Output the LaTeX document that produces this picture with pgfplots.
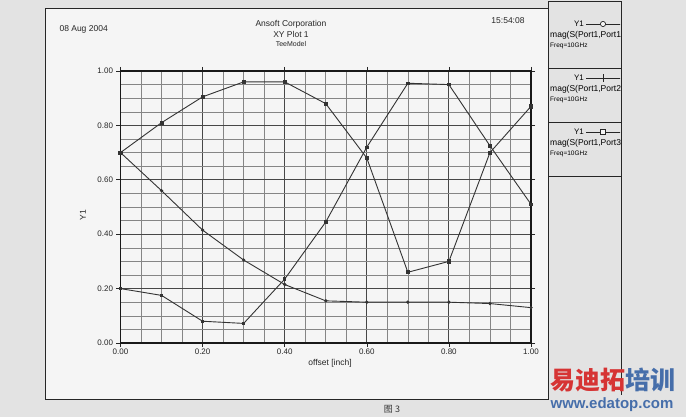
\documentclass[border=0pt]{standalone}
\usepackage{pgfplots}
\pgfplotsset{compat=1.18}
\usepackage{fontspec}
\setmainfont{Liberation Sans}
\newfontfamily\cjk{Noto Sans CJK SC}
\definecolor{wmred}{RGB}{214,52,52}
\definecolor{wmblue}{RGB}{70,110,170}

\begin{document}
\begin{tikzpicture}
\begin{scope}[x=1pt,y=1pt]
    \useasboundingbox (0,0) rectangle (686,417);
    \fill[black!11] (0,0) rectangle (686,417);
    % plot frame
    \fill[black!4] (45,17) rectangle (548,408);
    \draw[black!85, line width=1pt] (45,17) rectangle (548,408);
    % legend panel
    \draw[black!85, line width=1pt] (548,408) -- (548,415) -- (621,415) -- (621,22);
    \draw[black!85, line width=0.8pt] (548,349) -- (621,349);
    \draw[black!85, line width=0.8pt] (548,295) -- (621,295);
    \draw[black!85, line width=0.8pt] (548,241) -- (621,241);

    % header texts
    \node[font=\fontsize{8.5}{10}\selectfont, anchor=west, text=black!85] at (56,388) {08 Aug 2004};
    \node[font=\fontsize{8.5}{10}\selectfont, text=black!85] at (291,393) {Ansoft Corporation};
    \node[font=\fontsize{8.5}{10}\selectfont, text=black!85] at (291,383) {XY Plot 1};
    \node[font=\fontsize{7}{8}\selectfont, text=black!85] at (291,373) {TeeModel};
    \node[font=\fontsize{8.5}{10}\selectfont, text=black!85] at (508,396) {15:54:08};

    % axis titles
    \node[font=\fontsize{8.5}{10}\selectfont, rotate=90, text=black!85] at (83,202) {Y1};
    \node[font=\fontsize{8.5}{10}\selectfont, text=black!85] at (330,54) {offset [inch]};

    % legend entries
    \begin{scope}
        \clip (549,242) rectangle (620,414);
        \node[font=\fontsize{8}{9}\selectfont, anchor=east, inner sep=0pt] at (584,393) {Y1};
        \draw[black!85, line width=0.7pt] (586,393) -- (621,393);
        \draw[black!85, line width=0.7pt, fill=black!4] (603,393) circle (2.6);
        \node[font=\fontsize{8.5}{10}\selectfont, anchor=west, inner sep=0pt] at (550,382) {mag(S(Port1,Port1))};
        \node[font=\fontsize{6.5}{8}\selectfont, anchor=west, inner sep=0pt] at (550,371) {Freq=10GHz};

        \node[font=\fontsize{8}{9}\selectfont, anchor=east, inner sep=0pt] at (584,339) {Y1};
        \draw[black!85, line width=0.7pt] (586,339) -- (621,339);
        \draw[black!85, line width=0.7pt] (603,335) -- (603,343);
        \node[font=\fontsize{8.5}{10}\selectfont, anchor=west, inner sep=0pt] at (550,328) {mag(S(Port1,Port2))};
        \node[font=\fontsize{6.5}{8}\selectfont, anchor=west, inner sep=0pt] at (550,317) {Freq=10GHz};

        \node[font=\fontsize{8}{9}\selectfont, anchor=east, inner sep=0pt] at (584,285) {Y1};
        \draw[black!85, line width=0.7pt] (586,285) -- (621,285);
        \draw[black!85, line width=0.7pt, fill=black!4] (600.5,282.5) rectangle (605.5,287.5);
        \node[font=\fontsize{8.5}{10}\selectfont, anchor=west, inner sep=0pt] at (550,274) {mag(S(Port1,Port3))};
        \node[font=\fontsize{6.5}{8}\selectfont, anchor=west, inner sep=0pt] at (550,263) {Freq=10GHz};
    \end{scope}

    % caption and watermark
    \node[font=\cjk\fontsize{9}{10}\selectfont, text=black!80] at (392,8) {图 3};
    \node[font=\cjk\bfseries\fontsize{25}{27}\selectfont, inner sep=0pt] at (613,37)
        {\textcolor{wmred}{易迪拓}\textcolor{wmblue}{培训}};
    \node[font=\bfseries\fontsize{15}{17}\selectfont, text=wmblue, inner sep=0pt] at (612,12) {www.edatop.com};
\end{scope}

\begin{axis}[
    at={(120.5pt,74pt)}, anchor=south west,
    scale only axis,
    width=410.5pt, height=272pt,
    xmin=0, xmax=1, ymin=0, ymax=1,
    xtick={0,0.2,...,1}, ytick={0,0.2,...,1},
    minor tick num=3,
    grid=both,
    major grid style={black!72, line width=1.1pt},
    minor grid style={black!48, line width=0.55pt},
    axis line style={black!90, line width=1.3pt},
    tick align=outside,
    major tick length=4pt,
    minor tick length=0pt,
    tick style={black!85, line width=0.6pt},
    ticklabel style={font=\fontsize{8}{9}\selectfont, text=black!85},
    xticklabel style={yshift=1.5pt},
    /pgf/number format/.cd, fixed, fixed zerofill, precision=2, assume math mode=true,
]
% square markers
\addplot[black!80, line width=0.9pt, mark=square*, mark size=1.6pt, mark options={solid}]
    coordinates {(0,0.70) (0.1,0.81) (0.2,0.905) (0.3,0.96) (0.4,0.96) (0.5,0.88)
                 (0.6,0.68) (0.7,0.26) (0.8,0.30) (0.9,0.70) (1.0,0.87)};
% dots
\addplot[black!80, line width=0.9pt, mark=*, mark size=1.2pt]
    coordinates {(0,0.70) (0.1,0.56) (0.2,0.415) (0.3,0.305) (0.4,0.215) (0.5,0.155)
                 (0.6,0.15) (0.7,0.15) (0.8,0.15) (0.9,0.145) (1.0,0.13)};
\addplot[black!80, line width=0.9pt, mark=square*, mark size=1.2pt]
    coordinates {(0,0.20) (0.1,0.175) (0.2,0.08) (0.3,0.072) (0.4,0.235) (0.5,0.445)
                 (0.6,0.72) (0.7,0.955) (0.8,0.95) (0.9,0.725) (1.0,0.51)};
\end{axis}
\end{tikzpicture}
\end{document}
